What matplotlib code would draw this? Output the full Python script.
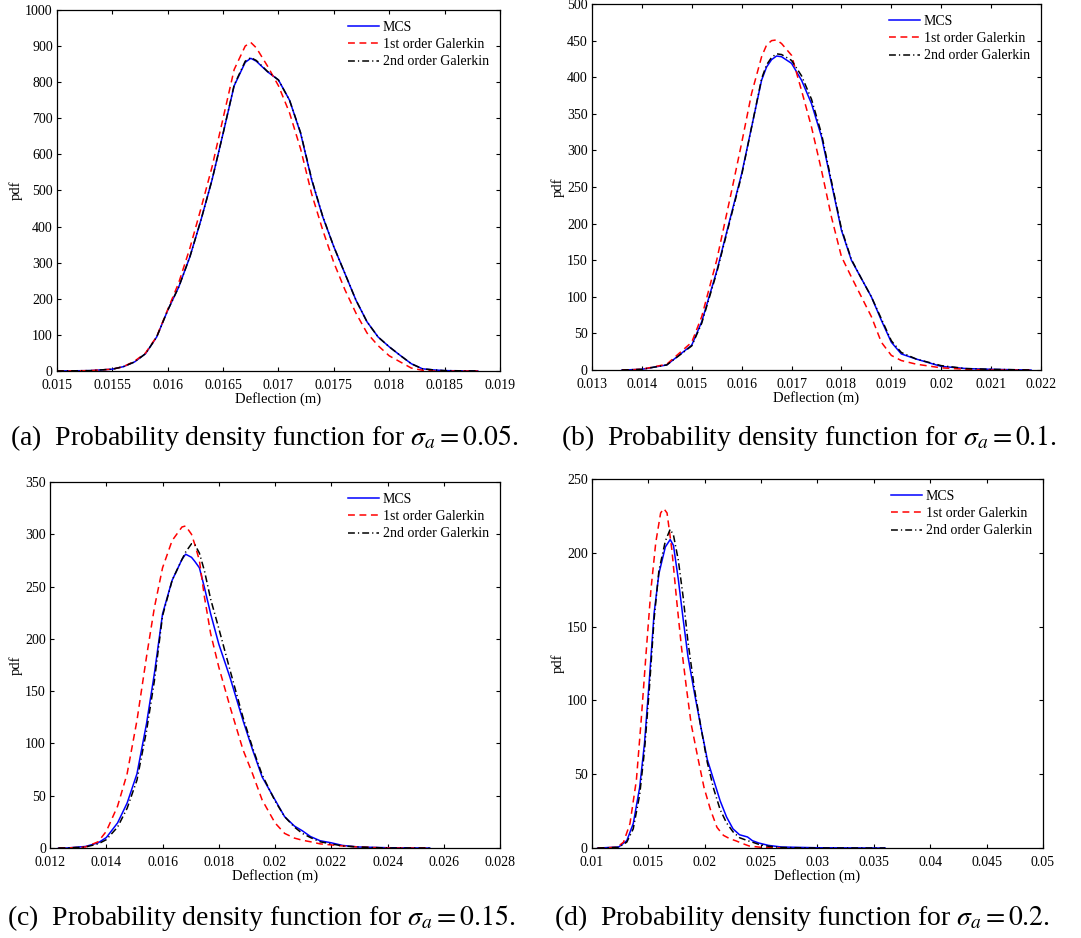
import numpy as np
import matplotlib.pyplot as plt
from matplotlib.ticker import FuncFormatter

plt.rcParams['font.family'] = ['Liberation Serif', 'DejaVu Serif']
plt.rcParams['mathtext.fontset'] = 'stix'

# ---- (a) sigma_a = 0.05 ----
xa = [0.0150, 0.0153, 0.0155, 0.0156, 0.0157, 0.0158, 0.0159, 0.0160, 0.0161, 0.0162,
      0.0163, 0.0164, 0.0165, 0.0166, 0.0167, 0.01675, 0.0168, 0.0169, 0.0170, 0.0171,
      0.0172, 0.0173, 0.0174, 0.0175, 0.0176, 0.0177, 0.0178, 0.0179, 0.0180, 0.0181,
      0.0182, 0.0183, 0.0184, 0.0185, 0.0188]
mcs_a = [0, 1, 5, 12, 25, 48, 94, 168, 233, 316, 418, 529, 658, 790, 855, 866, 858, 829,
         806, 750, 658, 529, 427, 344, 270, 196, 136, 94, 67, 43, 20, 6, 3, 1, 0]
gal1_a = [0, 1, 5, 12, 27, 50, 95, 170, 245, 340, 450, 565, 700, 835, 900, 910, 895, 845,
          790, 715, 615, 490, 390, 300, 225, 160, 105, 70, 42, 25, 8, 2, 0, 0, 0]
gal2_a = [0, 1, 5, 12, 25, 48, 94, 168, 233, 316, 418, 529, 658, 792, 858, 868, 860, 830,
          806, 750, 660, 531, 428, 344, 270, 196, 136, 94, 67, 43, 20, 6, 3, 1, 0]

# ---- (b) sigma_a = 0.1 ----
xb = [0.0136, 0.0140, 0.0145, 0.0150, 0.0152, 0.0155, 0.0158, 0.0160, 0.0162, 0.0164,
      0.0165, 0.0166, 0.0167, 0.0168, 0.0170, 0.0172, 0.0174, 0.0176, 0.0178, 0.0180,
      0.0182, 0.0184, 0.0186, 0.0188, 0.0190, 0.0192, 0.0195, 0.0200, 0.0205, 0.0210,
      0.0218]
mcs_b = [0, 1, 7, 34, 66, 135, 215, 268, 332, 396, 414, 424, 429, 428, 419, 396, 364,
         319, 255, 191, 150, 125, 100, 68, 38, 22, 15, 5, 2, 1, 0]
gal1_b = [0, 1, 8, 38, 73, 150, 245, 310, 378, 428, 444, 450, 451, 446, 430, 382, 332,
          273, 209, 155, 127, 100, 73, 38, 20, 13, 8, 3, 1, 0, 0]
gal2_b = [0, 1, 7, 33, 64, 133, 213, 266, 332, 398, 417, 427, 432, 431, 423, 402, 370,
          323, 258, 193, 151, 125, 100, 70, 40, 24, 15, 6, 2, 1, 0]

# ---- (c) sigma_a = 0.15 ----
xc = [0.0123, 0.01257, 0.01326, 0.01371, 0.0140, 0.0144, 0.01474, 0.01509, 0.01543,
      0.01571, 0.0160, 0.01634, 0.01669, 0.01682, 0.01703, 0.01715, 0.01731, 0.01749,
      0.01771, 0.0180, 0.0184, 0.01886, 0.0192, 0.01954, 0.0200, 0.02034, 0.02069,
      0.02097, 0.02126, 0.0216, 0.0220, 0.0224, 0.02297, 0.0240, 0.0255]
mcs_c = [0, 0, 1.5, 5, 10, 24, 43, 71, 119, 167, 224, 256, 276, 281, 278, 274, 268, 249,
         224, 195, 163, 122, 94, 68, 46, 30, 21, 16.5, 11, 7, 5, 2.5, 1, 0.3, 0]
gal1_c = [0, 0, 1, 6, 16, 40, 71, 122, 183, 230, 268, 294, 307, 308, 300, 290, 275, 240,
          205, 173, 135, 94, 71, 46, 24, 14, 9.5, 7.5, 6, 4, 3, 2, 1, 0, 0]
gal2_c = [0, 0, 1, 4, 8, 20, 38, 65, 112, 160, 222, 256, 276, 283, 291, 290, 282, 265,
          238, 210, 170, 125, 96, 70, 45, 30, 20, 14, 10, 6, 4, 2, 1, 0, 0]

# ---- (d) sigma_a = 0.2 ----
xd = [0.0105, 0.01237, 0.01309, 0.01366, 0.01423, 0.01466, 0.01509, 0.01551, 0.01594,
      0.01651, 0.01694, 0.01723, 0.01766, 0.01809, 0.01851, 0.01909, 0.01966, 0.02023,
      0.0208, 0.02137, 0.02194, 0.02251, 0.02309, 0.0238, 0.02423, 0.0248, 0.02566,
      0.0268, 0.0300, 0.0360]
mcs_d = [0, 0.7, 5, 16.5, 41, 71, 114, 159, 186, 204, 209, 205, 182, 155, 130, 105, 82,
         60, 46, 32, 21, 13, 9, 7.5, 5, 3.4, 1.8, 0.7, 0.2, 0]
gal2_d = [0, 0.5, 4, 13, 36, 66, 108, 155, 188, 208, 216, 212, 195, 170, 140, 108, 82,
          58, 40, 26, 17, 11, 7, 5, 4, 2.5, 1.2, 0.4, 0, 0]
xd1 = [0.0105, 0.01223, 0.0128, 0.01337, 0.01394, 0.01437, 0.0148, 0.01523, 0.01566,
       0.01609, 0.01637, 0.01666, 0.01709, 0.01751, 0.01794, 0.01837, 0.0188, 0.01937,
       0.01994, 0.02051, 0.02109, 0.02166, 0.02223, 0.0228, 0.02337, 0.02394, 0.0250,
       0.0270]
gal1_d = [0, 0.5, 4, 16.5, 46, 87, 132, 175, 207, 227, 230, 227, 202, 168, 136, 109, 84,
          62, 41, 26, 14, 8.6, 6.3, 4.8, 3, 1.4, 0.5, 0]

panels = [
    dict(mcs=(xa, mcs_a), g1=(xa, gal1_a), g2=(xa, gal2_a),
         xlim=(0.015, 0.019), xstep=0.0005, ylim=(0, 1000), ystep=100,
         pos=[0.0527, 0.6045, 0.4098, 0.3849],
         cap=r'(a)  Probability density function for $\sigma_a = 0.05$.', cx=0.244, cy=1 - 438 / 938),
    dict(mcs=(xb, mcs_b), g1=(xb, gal1_b), g2=(xb, gal2_b),
         xlim=(0.013, 0.022), xstep=0.001, ylim=(0, 500), ystep=50,
         pos=[0.5476, 0.6055, 0.4154, 0.3902],
         cap=r'(b)  Probability density function for $\sigma_a = 0.1$.', cx=0.748, cy=1 - 438 / 938),
    dict(mcs=(xc, mcs_c), g1=(xc, gal1_c), g2=(xc, gal2_c),
         xlim=(0.012, 0.028), xstep=0.002, ylim=(0, 350), ystep=50,
         pos=[0.0463, 0.0959, 0.4163, 0.3902],
         cap=r'(c)  Probability density function for $\sigma_a = 0.15$.', cx=0.242, cy=1 - 918 / 938),
    dict(mcs=(xd, mcs_d), g1=(xd1, gal1_d), g2=(xd, gal2_d),
         xlim=(0.01, 0.05), xstep=0.005, ylim=(0, 250), ystep=50,
         pos=[0.5476, 0.0959, 0.4172, 0.3934],
         cap=r'(d)  Probability density function for $\sigma_a = 0.2$.', cx=0.742, cy=1 - 918 / 938),
]

fig = plt.figure(figsize=(10.81, 9.38), dpi=100)

for p in panels:
    ax = fig.add_axes(p['pos'])
    ax.plot(*p['mcs'], color='#0000ff', lw=1.1, label='MCS')
    ax.plot(*p['g1'], color='#ff0000', lw=1.1, dashes=(4.5, 3), label='1st order Galerkin')
    ax.plot(*p['g2'], color='black', lw=1.1, dashes=(4.5, 2, 0.8, 2), label='2nd order Galerkin')
    ax.set_xlim(p['xlim'])
    ax.set_ylim(p['ylim'])
    ax.set_xticks(np.arange(p['xlim'][0], p['xlim'][1] + p['xstep'] / 2, p['xstep']))
    ax.set_yticks(np.arange(p['ylim'][0], p['ylim'][1] + p['ystep'] / 2, p['ystep']))
    ax.xaxis.set_major_formatter(FuncFormatter(lambda v, _: '%g' % round(v, 6)))
    ax.yaxis.set_major_formatter(FuncFormatter(lambda v, _: '%g' % v))
    ax.tick_params(direction='in', top=True, right=True, length=3, width=0.8,
                   labelsize=10)
    ax.tick_params(axis='x', pad=5.5)
    ax.tick_params(axis='y', pad=3)
    for s in ax.spines.values():
        s.set_linewidth(0.9)
    ax.set_xlabel('Deflection (m)', fontsize=10.5, labelpad=0)
    ax.set_ylabel('pdf', fontsize=10.5, labelpad=2)
    ax.legend(loc='upper right', frameon=False, fontsize=10, handlelength=2.2,
              handletextpad=0.3, labelspacing=0.3, borderaxespad=0.4)
    fig.text(p['cx'], p['cy'], p['cap'], fontsize=20, ha='center', va='center')

fig.savefig('out.png', dpi=100)
